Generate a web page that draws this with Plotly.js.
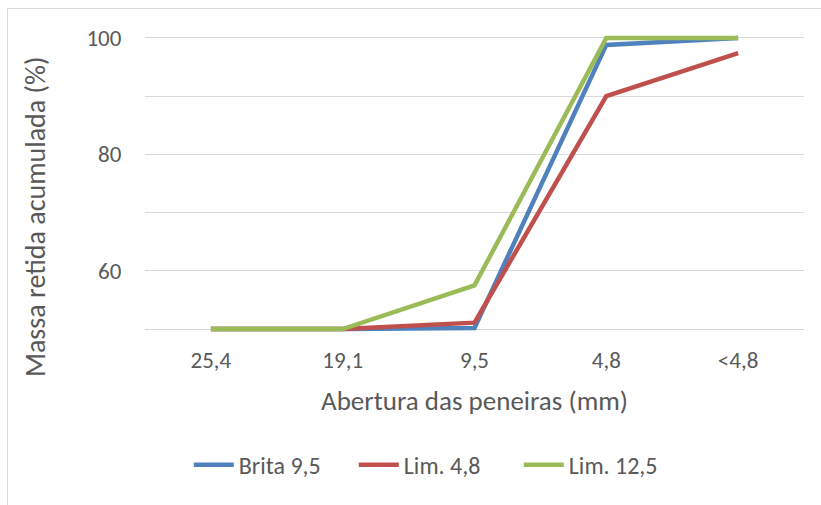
<!DOCTYPE html>
<html>
<head>
<meta charset="utf-8">
<script src="https://cdn.plot.ly/plotly-3.0.1.min.js"></script>
<style>
  html, body { margin: 0; padding: 0; background: #fff; }
  #chart { position: absolute; left: 0; top: 0; width: 821px; height: 505px; }
  #frame { position: absolute; left: 7px; top: 8px; width: 830px; height: 520px;
           border: 1px solid #d9d9d9; pointer-events: none; box-sizing: border-box; }
</style>
</head>
<body>
<div id="chart"></div>
<div id="frame"></div>
<script>
const categories = ['25,4', '19,1', '9,5', '4,8', '<4,8'];
const brita95 = [50, 50, 50.2, 98.8, 100];
const lim48 = [50, 50, 51.1, 90, 97.4];
const lim125 = [50, 50, 57.5, 100, 100];
const seriesNames = ['Brita 9,5', 'Lim. 4,8', 'Lim. 12,5'];
const seriesColors = ['#4f81bd', '#c0504d', '#9bbb59'];
const yTickVals = [50, 60, 70, 80, 90, 100];
const yTickText = ['', '60', '', '80', '', '100'];
const xTitle = 'Abertura das peneiras (mm)';
const yTitle = 'Massa retida acumulada (%)';

const font = 'Carlito, Calibri, Lato, "Open Sans", sans-serif';
const dataSets = [brita95, lim48, lim125];
const traces = dataSets.map((vals, i) => ({
  type: 'scatter', mode: 'lines',
  x: categories, y: vals, name: seriesNames[i],
  line: { color: seriesColors[i], width: 4.5 }
}));

const layout = {
  width: 821, height: 505,
  margin: { l: 145, r: 17, t: 35, b: 173 },
  paper_bgcolor: '#ffffff', plot_bgcolor: '#ffffff',
  font: { family: font, color: '#595959', size: 23 },
  xaxis: {
    type: 'category', range: [-0.5, 4.5],
    showgrid: false, zeroline: false, showline: false,
    ticks: 'outside', ticklen: 7, tickcolor: 'rgba(0,0,0,0)',
    tickfont: { size: 23, color: '#595959' },
    title: { text: xTitle, font: { size: 27, color: '#595959' }, standoff: 18 }
  },
  yaxis: {
    range: [49.5, 100.5],
    tickvals: yTickVals, ticktext: yTickText,
    showgrid: true, gridcolor: '#d9d9d9', gridwidth: 1,
    zeroline: false, showline: false,
    ticks: 'outside', ticklen: 18, tickcolor: 'rgba(0,0,0,0)',
    tickfont: { size: 23, color: '#595959' }
  },
  annotations: [{
    text: yTitle, textangle: -90, showarrow: false,
    xref: 'paper', yref: 'paper',
    x: (35 - 145) / 659, y: (332 - 217) / 297,
    xanchor: 'center', yanchor: 'middle',
    font: { size: 28, color: '#595959', family: font }
  }],
  legend: {
    orientation: 'h', x: 0.442, xanchor: 'center', y: -0.448, yanchor: 'middle',
    font: { size: 24, color: '#595959' }, itemwidth: 40, entrywidth: 110,
    traceorder: 'normal'
  },
  showlegend: true
};

Plotly.newPlot('chart', traces, layout, { displayModeBar: false, staticPlot: true });
</script>
</body>
</html>
